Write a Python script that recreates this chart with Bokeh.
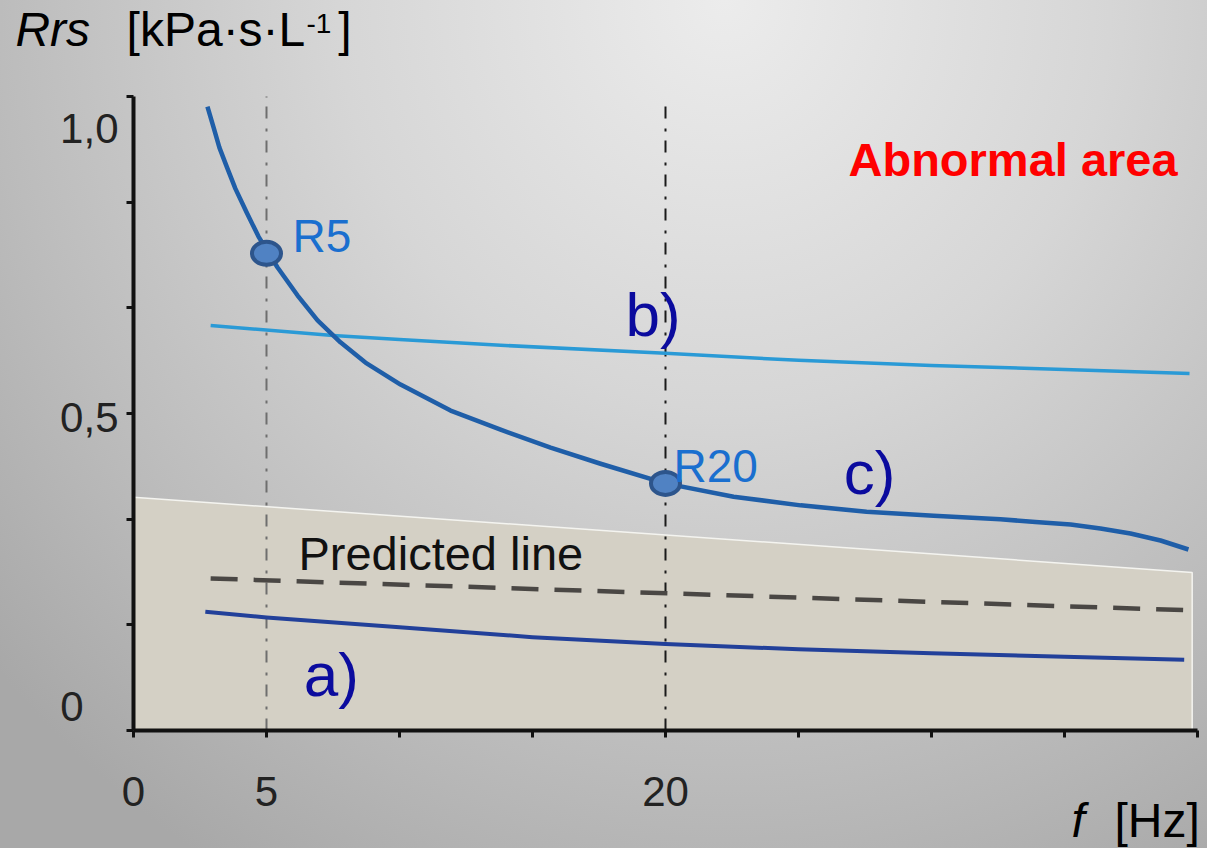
from bokeh.plotting import figure
from bokeh.models import (Range1d, LinearAxis, FixedTicker, Label,
                          CustomJSTickFormatter, ColumnDataSource)
from bokeh.core.properties import value
from bokeh.embed import file_html
from bokeh.resources import INLINE

# ---- axes -------------------------------------------------------------
X_MIN, X_MAX = 0, 40                 # frequency f [Hz]
Y_MIN, Y_MAX = -0.0415, 1.0554       # resistance Rrs [kPa*s/L]
# visible canvas window (the axes sit inside it)
VIEW_X = (-5.0, 40.376)
VIEW_Y = (-0.2457, 1.2215)

X_TICKS = [0, 5, 10, 15, 20, 25, 30, 35, 40]
X_TICK_LABELS = {0: "0", 5: "5", 20: "20"}
Y_LABEL_TICKS = [0, 0.5, 1.0]
Y_TICK_LABELS = ["0", "0,5", "1,0"]
Y_TICK_COUNT = 7

# ---- data -------------------------------------------------------------
# a) normal subject
A_F = [2.7, 5, 10, 15, 20, 25, 30, 35, 39.5]
A_R = [0.164, 0.154, 0.137, 0.120, 0.108, 0.099, 0.092, 0.086, 0.081]

# b) central (large airway) obstruction
B_F = [2.9, 7.5, 10, 13.8, 20, 25, 30, 35, 39.7]
B_R = [0.659, 0.642, 0.635, 0.625, 0.611, 0.599, 0.590, 0.583, 0.576]

# c) peripheral (small airway) obstruction
C_F = [2.78, 3.01, 3.23, 3.53, 3.83, 4.25, 4.70, 5.41, 6.17, 6.92, 7.78,
       8.72, 10.04, 11.92, 13.80, 15.68, 17.56, 20.0, 22.56, 25.08, 27.56,
       30.08, 32.59, 33.91, 35.23, 36.35, 37.48, 38.61, 39.66]
C_R = [1.038, 1.002, 0.967, 0.931, 0.896, 0.855, 0.813, 0.760, 0.711,
       0.668, 0.630, 0.595, 0.557, 0.512, 0.479, 0.448, 0.420, 0.386,
       0.363, 0.348, 0.337, 0.330, 0.324, 0.3192, 0.3149, 0.308, 0.2993,
       0.2872, 0.2716]

# predicted values
PRED_F = [2.9, 40]
PRED_R = [0.2215, 0.166]

# upper limit of the normal range
NORMAL_F = [0, 39.8]
NORMAL_TOP = [0.362, 0.232]

# R5 / R20 read-outs on curve c
REF_F = [5, 20]
MARK_F = [5, 20]
MARK_R = [0.784, 0.386]
MARK_NAMES = ["R5", "R20"]

FONT = "Liberation Sans"
AXIS_COLOR = "#111111"

p = figure(width=1207, height=848,
           x_range=Range1d(*VIEW_X), y_range=Range1d(*VIEW_Y),
           output_backend="svg", toolbar_location=None,
           min_border_left=0, min_border_right=0,
           min_border_top=0, min_border_bottom=0,
           background_fill_color=None, border_fill_color=None,
           outline_line_color=None)
p.styles = {"background": "radial-gradient(ellipse 80% 120% at 60% 0%, "
                          "#ececec 0%, #d6d6d6 40%, #bcbcbc 75%, #a8a8a8 100%)"}
p.grid.visible = False

# x axis, pinned at the bottom of the value range
xa = p.xaxis[0]
xa.fixed_location = Y_MIN
xa.bounds = (X_MIN, X_MAX)
xa.ticker = FixedTicker(ticks=X_TICKS)
xa.major_label_overrides = {t: X_TICK_LABELS.get(t, "") for t in X_TICKS}
xa.axis_line_width = 4
xa.axis_line_color = AXIS_COLOR
xa.major_tick_line_width = 3
xa.major_tick_line_color = AXIS_COLOR
xa.major_tick_out = 7
xa.major_tick_in = 0
xa.minor_tick_line_color = None
xa.major_label_standoff = 40
xa.major_label_text_font = FONT
xa.major_label_text_font_size = "42px"
xa.major_label_text_color = "#222222"

# y axis line with evenly spaced tick marks, pinned at f = 0
ya = p.yaxis[0]
step = (Y_MAX - Y_MIN) / (Y_TICK_COUNT - 1)
ya.fixed_location = X_MIN
ya.bounds = (Y_MIN, Y_MAX)
ya.ticker = FixedTicker(ticks=[Y_MIN + k * step for k in range(Y_TICK_COUNT)])
ya.formatter = CustomJSTickFormatter(code="return ''")
ya.axis_line_width = 4
ya.axis_line_color = AXIS_COLOR
ya.major_tick_line_width = 3
ya.major_tick_line_color = AXIS_COLOR
ya.major_tick_out = 7
ya.major_tick_in = 0
ya.minor_tick_line_color = None
ya.major_label_standoff = 0

labels = dict(zip(Y_LABEL_TICKS, Y_TICK_LABELS))


def value_axis(ticks, standoff):
    ax = LinearAxis(ticker=FixedTicker(ticks=ticks), fixed_location=X_MIN,
                    major_label_overrides={t: labels[t] for t in ticks},
                    axis_line_color=None, major_tick_line_color=None,
                    minor_tick_line_color=None, major_tick_out=0,
                    major_tick_in=0, major_label_standoff=standoff,
                    major_label_text_font=FONT,
                    major_label_text_font_size="42px",
                    major_label_text_color="#222222")
    p.add_layout(ax, "left")


value_axis(Y_LABEL_TICKS[1:], 15)
value_axis(Y_LABEL_TICKS[:1], 50)

# normal range (shaded)
p.patch(x=[NORMAL_F[0], NORMAL_F[0], NORMAL_F[1], NORMAL_F[1]],
        y=[Y_MIN, NORMAL_TOP[0], NORMAL_TOP[1], Y_MIN],
        fill_color="#d4d0c5", line_color="#f4f4f0", line_width=1.5)

# R5 / R20 frequency guides
p.line(x=[REF_F[0], REF_F[0]], y=[Y_MIN, Y_MAX], line_color="#6e6e6e",
       line_width=2, line_dash="12 9 3 10")
p.line(x=[REF_F[1], REF_F[1]], y=[Y_MIN, Y_MAX - 0.005], line_color="#1a1a1a",
       line_width=2, line_dash="12 9 3 10")

# predicted line
p.line(x=PRED_F, y=PRED_R, line_color="#4a4744", line_width=4.5,
       line_dash="27 16")

# curves
p.line(x=A_F, y=A_R, line_color="#22409a", line_width=4, line_join="round")
p.line(x=B_F, y=B_R, line_color="#2a9ad6", line_width=3.5, line_join="round")
p.line(x=C_F, y=C_R, line_color="#1f5ea8", line_width=4.5, line_join="round")

# R5 / R20 markers
p.ellipse(x=MARK_F, y=MARK_R, width=29, height=23, width_units="screen",
          height_units="screen", fill_color="#5082c3", line_color="#2d558c",
          line_width=4)

src = ColumnDataSource(dict(x=MARK_F, y=MARK_R, t=MARK_NAMES, dx=[26, 8]))
p.text(x="x", y="y", text="t", x_offset="dx", y_offset=-17, source=src,
       text_font=value(FONT), text_font_size="46px", text_color="#1a6fcf",
       text_baseline="alphabetic", text_align="left")

# curve names
p.text(x=[6.4, 18.5, 26.7], y=[0.0554, 0.678, 0.405], text=["a)", "b)", "c)"],
       text_font=value(FONT), text_font_size="62px", text_color="#0b0b9e",
       text_baseline="alphabetic", text_align="left")

p.text(x=[6.2], y=[0.2654], text=["Predicted line"], text_font=value(FONT),
       text_font_size="47px", text_color="#111111",
       text_baseline="alphabetic", text_align="left")

p.text(x=[26.88], y=[0.947], text=["Abnormal area"], text_font=value(FONT),
       text_font_size="47px", text_font_style="bold", text_color="#ff0000",
       text_baseline="alphabetic", text_align="left")


# axis titles
def title(x, y, text, size="48px", style="normal"):
    p.add_layout(Label(x=x, y=y, text=text, text_font=FONT,
                       text_font_size=size, text_font_style=style,
                       text_color="#000000", text_baseline="alphabetic",
                       text_align="left"))


title(-4.44, 1.1713, "Rrs", style="italic")
title(-0.26, 1.1713, "[kPa\u00b7s\u00b7L")
title(6.5, 1.1824, "-1", size="28px")
title(7.7, 1.1713, "]")
title(35.26, -0.1972, "f", style="italic")
title(36.88, -0.1972, "[Hz]")

open("out.html", "w").write(file_html(p, INLINE))
